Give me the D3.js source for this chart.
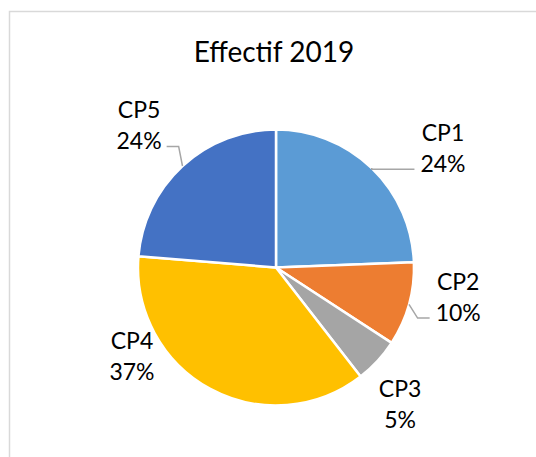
<!DOCTYPE html>
<html>
<head>
<meta charset="utf-8">
<script src="https://cdn.jsdelivr.net/npm/d3@7/dist/d3.min.js"></script>
<style>
  html, body { margin: 0; padding: 0; background: #fff; }
  svg { display: block; }
  text { font-family: Lato, "Open Sans", sans-serif; fill: #000; }
</style>
</head>
<body>
<svg id="chart" width="536" height="457"></svg>
<script>
// ---- data ----
const categories = ["CP1", "CP2", "CP3", "CP4", "CP5"];
const values = [24.4, 9.8, 5.3, 36.8, 23.7];
const percentLabels = ["24%", "10%", "5%", "37%", "24%"];
const title = "Effectif 2019";
const colors = ["#5B9BD5", "#ED7D31", "#A5A5A5", "#FFC000", "#4472C4"];

// ---- layout ----
const W = 536, H = 457;
const cx = 276, cy = 267.5, R = 138;
const labelRadius = R * 1.4;
// per-label nudges from the label-radius centroid (best-fit placement)
const labelNudge = [[33, 13], [-4, -29], [-18, -1], [-52, -88], [-6, -7]];
const leaderOn = [true, true, false, false, true];
const lineGap = 31;

const svg = d3.select("#chart");

// chart frame
svg.append("rect")
  .attr("x", 9.5).attr("y", 11.5)
  .attr("width", W + 20).attr("height", H + 20)
  .attr("fill", "#fff").attr("stroke", "#d9d9d9").attr("stroke-width", 1.5);

// title
svg.append("text")
  .attr("x", 274).attr("y", 62)
  .attr("text-anchor", "middle")
  .style("font-size", "28px")
  .text(title);

const data = categories.map((c, i) => ({ cat: c, value: values[i], pct: percentLabels[i], color: colors[i], i }));

const pie = d3.pie().value(d => d.value).sort(null);
const arcs = pie(data);
const arc = d3.arc().innerRadius(0).outerRadius(R);

const g = svg.append("g").attr("transform", `translate(${cx},${cy})`);

g.selectAll("path.slice")
  .data(arcs)
  .join("path")
  .attr("class", "slice")
  .attr("d", arc)
  .attr("fill", d => d.data.color)
  .attr("stroke", "#fff")
  .attr("stroke-width", 2.5)
  .attr("stroke-linejoin", "round");

// labels
const labelG = svg.append("g");
arcs.forEach((a, i) => {
  const mid = (a.startAngle + a.endAngle) / 2;
  const lx = cx + labelRadius * Math.sin(mid) + labelNudge[i][0];
  const ly = cy - labelRadius * Math.cos(mid) + labelNudge[i][1];
  const t = labelG.append("text")
    .attr("text-anchor", "middle")
    .style("font-size", "23px");
  t.append("tspan").attr("x", lx).attr("y", ly).text(a.data.cat);
  const t2 = t.append("tspan").attr("x", lx).attr("y", ly + lineGap).text(a.data.pct);

  if (leaderOn[i]) {
    const w2 = t2.node().getComputedTextLength();
    const ex = cx + R * Math.sin(mid);
    const ey = cy - R * Math.cos(mid);
    const yLine = ly + lineGap - 3;
    const right = Math.sin(mid) > 0;
    const textEdge = right ? lx - w2 / 2 : lx + w2 / 2;
    const endX = right ? textEdge - 6 : textEdge + 5;
    let elbowX = right ? textEdge - 18 : textEdge + 17;
    if (Math.abs(ey - yLine) < 3) elbowX = ex;
    const pts = [[ex, ey], [elbowX, yLine], [endX, yLine]];
    labelG.append("path")
      .attr("d", d3.line()(pts))
      .attr("fill", "none")
      .attr("stroke", "#a6a6a6")
      .attr("stroke-width", 1.5);
  }
});
</script>
</body>
</html>
